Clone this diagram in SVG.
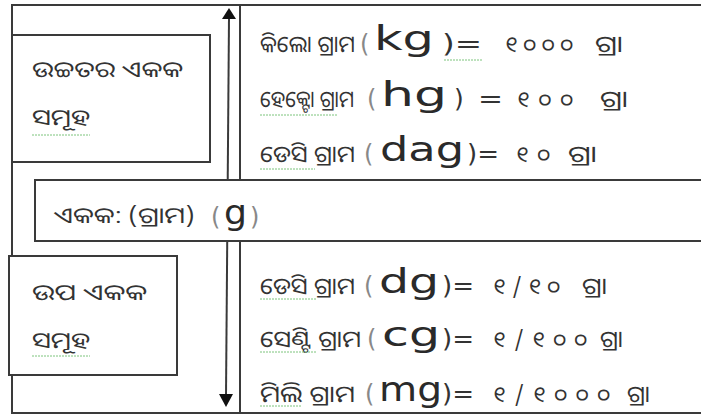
<svg xmlns="http://www.w3.org/2000/svg" width="701" height="417" viewBox="0 0 701 417">
<defs>
<style>
.ln{fill:none;stroke:#3a3a3a;stroke-width:2}
.box{fill:#fff;stroke:#3a3a3a;stroke-width:2}
.od{font-family:"Noto Sans Oriya","Noto Sans","DejaVu Sans",sans-serif;font-size:23px;fill:#333}
.nu{font-family:"Noto Sans Oriya","Noto Sans","DejaVu Sans",sans-serif;font-size:22px;fill:#333}
.ol{font-family:"Noto Sans Oriya","Noto Sans","DejaVu Sans",sans-serif;font-size:22px;fill:#333}
.la{font-family:"DejaVu Sans",sans-serif;font-size:34px;fill:#2a2a2a}
.pa{font-family:"DejaVu Sans",sans-serif;font-size:24px;fill:#888}
.eq{font-family:"DejaVu Sans",sans-serif;font-size:25px;fill:#333}
.sq{fill:none;stroke:#7cc47c;stroke-width:1;stroke-dasharray:2 1}
</style>
</defs>
<rect width="701" height="417" fill="#fff"/>
<g id="frame">
<path class="ln" d="M710,5 H12 V413 H710"/>
<line class="ln" x1="240" y1="5" x2="240" y2="413"/>
</g>
<g id="connectors">
<line x1="229" y1="18" x2="226" y2="396" stroke="#3a3a3a" stroke-width="2"/>
<path d="M229,8 L236,19 L222,19 z" fill="#111"/>
<path d="M226,407 L219,394 L233,394 z" fill="#111"/>
</g>
<g id="higher-units">
<rect class="box" x="12" y="35" width="198" height="127"/>
<text class="ol" x="32" y="77" textLength="151" lengthAdjust="spacingAndGlyphs">ଉଚ୍ଚତର ଏକକ</text>
<text class="ol" x="32" y="125" textLength="58" lengthAdjust="spacingAndGlyphs">ସମୂହ</text>
<path class="sq" d="M32,135 H90"/>
</g>
<g id="base-unit">
<rect class="box" x="35" y="180" width="680" height="61"/>
<text class="ol" x="54" y="223" textLength="68" lengthAdjust="spacingAndGlyphs">ଏକକ:</text>
<text class="ol" x="128" y="223" textLength="67" lengthAdjust="spacingAndGlyphs">(ଗ୍ରାମ)</text>
<text class="pa" x="211" y="225">(</text>
<text class="la" x="224" y="224" textLength="23" lengthAdjust="spacingAndGlyphs">g</text>
<text class="pa" x="250" y="225">)</text>
</g>
<g id="sub-units">
<rect class="box" x="9" y="256" width="168" height="119"/>
<text class="ol" x="32" y="300" textLength="115" lengthAdjust="spacingAndGlyphs">ଉପ ଏକକ</text>
<text class="ol" x="32" y="348" textLength="58" lengthAdjust="spacingAndGlyphs">ସମୂହ</text>
<path class="sq" d="M32,356 H90"/>
</g>
<g id="multiples">
<text class="od" x="260" y="52" textLength="95" lengthAdjust="spacingAndGlyphs">କିଲୋ ଗ୍ରାମ</text>
<text class="pa" x="360" y="52">(</text>
<text class="la" x="374" y="50" textLength="60" lengthAdjust="spacingAndGlyphs">kg</text>
<text class="eq" x="442" y="52" textLength="40" lengthAdjust="spacingAndGlyphs">)=</text>
<text class="nu" x="505" y="52" textLength="68" lengthAdjust="spacing">୧୦୦୦</text>
<text class="od" x="595" y="52" textLength="28" lengthAdjust="spacingAndGlyphs">ଗ୍ରା</text>

<text class="od" x="260" y="107" textLength="94" lengthAdjust="spacingAndGlyphs">ହେକ୍ଟୋ ଗ୍ରାମ</text>
<text class="pa" x="367" y="107">(</text>
<text class="la" x="381" y="106" textLength="66" lengthAdjust="spacingAndGlyphs">hg</text>
<text class="eq" x="454" y="107">)</text>
<text class="eq" x="478" y="107" textLength="25" lengthAdjust="spacingAndGlyphs">=</text>
<text class="nu" x="517" y="107" textLength="56" lengthAdjust="spacing">୧୦୦</text>
<text class="od" x="600" y="107" textLength="28" lengthAdjust="spacingAndGlyphs">ଗ୍ରା</text>

<text class="od" x="260" y="162" textLength="95" lengthAdjust="spacingAndGlyphs">ଡେସି ଗ୍ରାମ</text>
<text class="pa" x="364" y="162">(</text>
<text class="la" x="380" y="161" textLength="84" lengthAdjust="spacingAndGlyphs">dag</text>
<text class="eq" x="467" y="162" textLength="32" lengthAdjust="spacingAndGlyphs">)=</text>
<text class="nu" x="516" y="162" textLength="34" lengthAdjust="spacing">୧୦</text>
<text class="od" x="568" y="162" textLength="29" lengthAdjust="spacingAndGlyphs">ଗ୍ରା</text>
<path class="sq" d="M444,60 H482 M260,115 H337 M260,169 H315"/>
</g>
<g id="submultiples">
<text class="od" x="260" y="294" textLength="95" lengthAdjust="spacingAndGlyphs">ଡେସି ଗ୍ରାମ</text>
<text class="pa" x="364" y="294">(</text>
<text class="la" x="379" y="293" textLength="60" lengthAdjust="spacingAndGlyphs">dg</text>
<text class="eq" x="442" y="294" textLength="32" lengthAdjust="spacingAndGlyphs">)=</text>
<text class="nu" x="493" y="294" textLength="67" lengthAdjust="spacing">୧/୧୦</text>
<text class="od" x="582" y="294" textLength="25" lengthAdjust="spacingAndGlyphs">ଗ୍ରା</text>

<text class="od" x="260" y="347" textLength="101" lengthAdjust="spacingAndGlyphs">ସେଣ୍ଟି ଗ୍ରାମ</text>
<text class="pa" x="367" y="347">(</text>
<text class="la" x="382" y="346" textLength="58" lengthAdjust="spacingAndGlyphs">cg</text>
<text class="eq" x="442" y="347" textLength="32" lengthAdjust="spacingAndGlyphs">)=</text>
<text class="nu" x="493" y="347" textLength="94" lengthAdjust="spacing">୧/୧୦୦</text>
<text class="od" x="600" y="347" textLength="23" lengthAdjust="spacingAndGlyphs">ଗ୍ରା</text>

<text class="od" x="260" y="402" textLength="95" lengthAdjust="spacingAndGlyphs">ମିଲି ଗ୍ରାମ</text>
<text class="pa" x="365" y="402">(</text>
<text class="la" x="379" y="401" textLength="63" lengthAdjust="spacingAndGlyphs">mg</text>
<text class="eq" x="442" y="402" textLength="32" lengthAdjust="spacingAndGlyphs">)=</text>
<text class="nu" x="493" y="402" textLength="117" lengthAdjust="spacing">୧/୧୦୦୦</text>
<text class="od" x="627" y="402" textLength="23" lengthAdjust="spacingAndGlyphs">ଗ୍ରା</text>
<path class="sq" d="M260,299 H317 M260,352 H317 M260,406 H302"/>
</g>
</svg>
